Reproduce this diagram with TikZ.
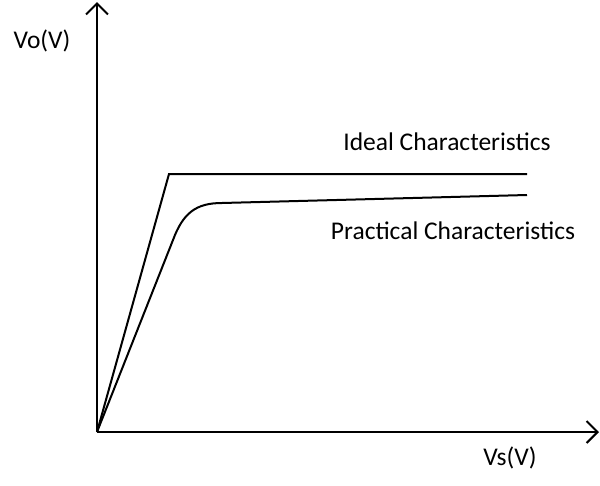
\documentclass[tikz,border=0pt]{standalone}
\usepackage{fontspec}
\setmainfont{Carlito}
\usetikzlibrary{arrows.meta}
\begin{document}
\begin{tikzpicture}[x=1pt,y=-1pt,>={Straight Barb[length=11pt,width=22pt]},
  curve/.style={line width=2pt,line join=miter},
  lbl/.style={font=\fontsize{25.5}{30}\selectfont,inner sep=0pt}]
       \useasboundingbox (0,0) rectangle (600,485);
       \coordinate (O) at (97,432);
       \coordinate (ytop) at (97,2);
       \coordinate (xend) at (599,432);
       \draw [->, curve] (O) -- (ytop);
       \draw [->, curve] (O) -- (xend);
       % ideal
       \coordinate (knee) at (169,174);
       \coordinate (iend) at (527,174);
       \draw [curve] (O) -- (knee) -- (iend);
       % practical
       \coordinate (p1) at (173,240);
       \coordinate (p2) at (222,203);
       \coordinate (pend) at (527,195);
       \draw [curve] (O) -- (p1) .. controls (183,213) and (196,203) .. (p2) -- (pend);
       \node[lbl] (vo) at (42,41) {Vo(V)};
       \node[lbl] (vs) at (510,458) {Vs(V)};
       \node[lbl] (ideal) at (447,142) {Ideal Characteristics};
       \node[lbl] (prac) at (453,231) {Practical Characteristics};
    \end{tikzpicture}
\end{document}
